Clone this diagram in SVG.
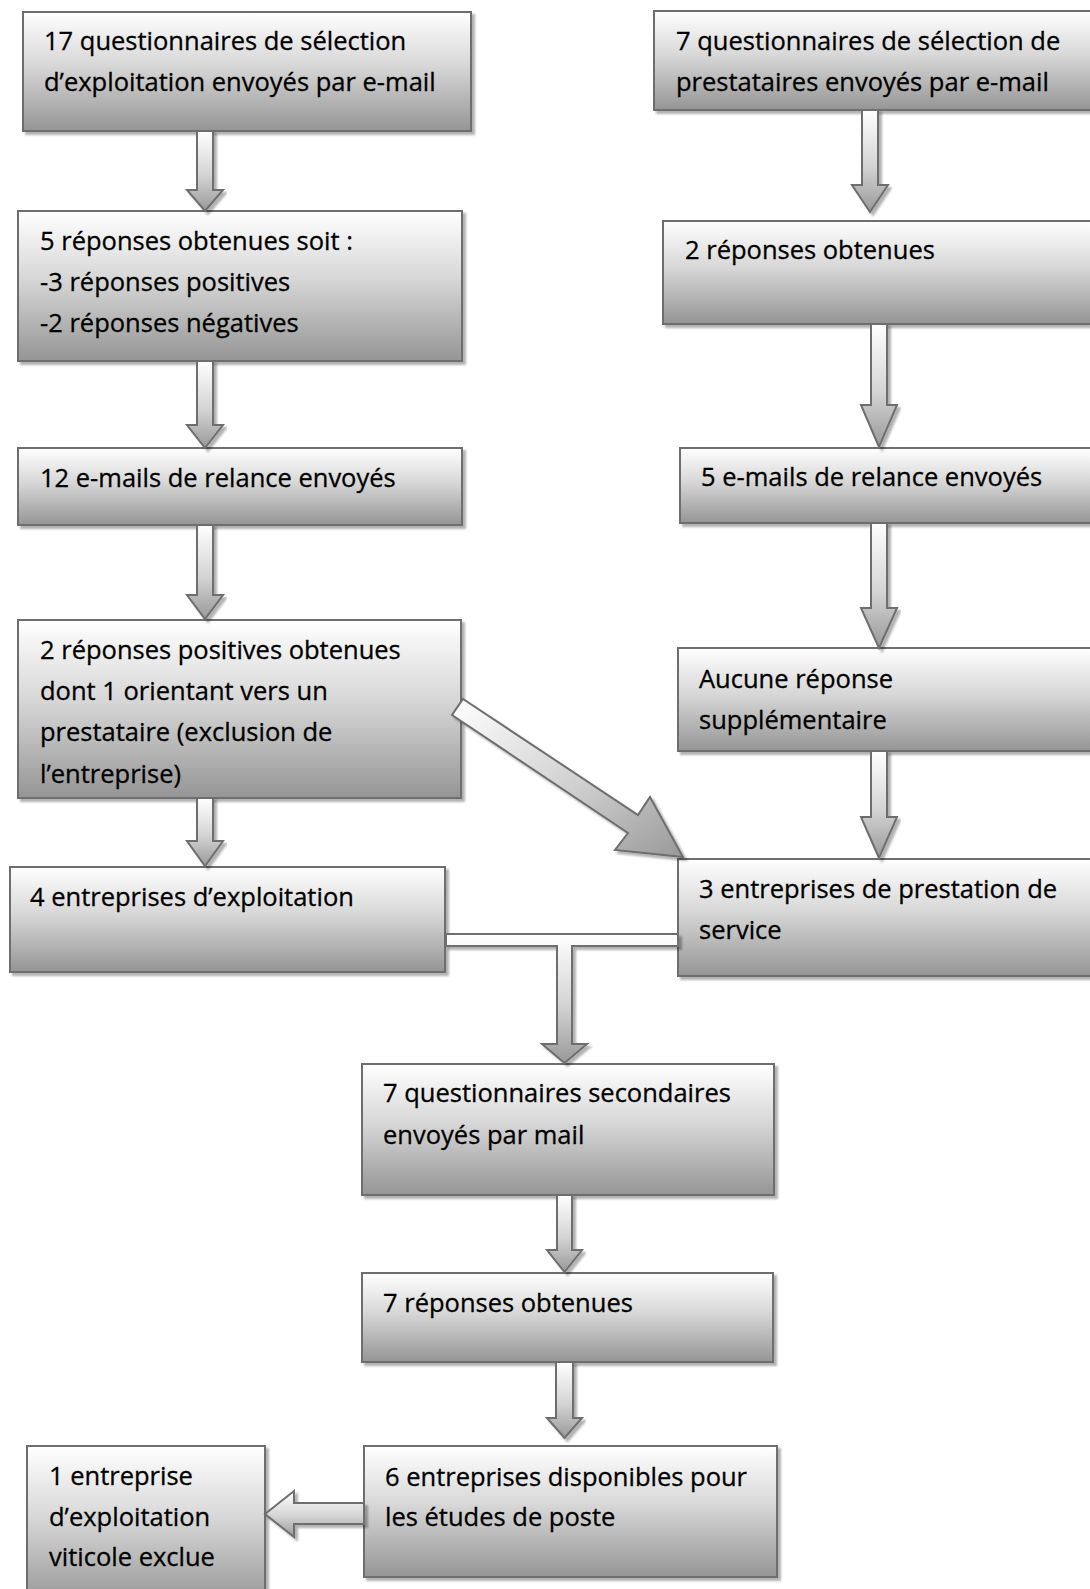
<svg xmlns="http://www.w3.org/2000/svg" width="1090" height="1589" viewBox="0 0 1090 1589">
<defs>
<linearGradient id="boxGrad" x1="0" y1="0" x2="0" y2="1">
<stop offset="0" stop-color="#ffffff"/>
<stop offset="0.45" stop-color="#d7d7d7"/>
<stop offset="1" stop-color="#959595"/>
</linearGradient>
<linearGradient id="arrGrad" x1="0" y1="0" x2="0" y2="1">
<stop offset="0" stop-color="#ffffff"/>
<stop offset="0.55" stop-color="#d4d4d4"/>
<stop offset="1" stop-color="#999999"/>
</linearGradient>
<linearGradient id="diagGrad" x1="0" y1="0" x2="1" y2="1">
<stop offset="0" stop-color="#ffffff"/>
<stop offset="0.55" stop-color="#cfcfcf"/>
<stop offset="1" stop-color="#999999"/>
</linearGradient>
<filter id="shadow" x="-5%" y="-5%" width="115%" height="115%">
<feDropShadow dx="3" dy="3" stdDeviation="0.8" flood-color="#000000" flood-opacity="0.3"/>
</filter>
</defs>
<style>
.box{fill:url(#boxGrad);stroke:#6e6e6e;stroke-width:2;filter:url(#shadow)}
.arr{fill:url(#arrGrad);stroke:#6e6e6e;stroke-width:2;stroke-linejoin:miter;filter:url(#shadow)}
.diag{fill:url(#diagGrad);stroke:#6e6e6e;stroke-width:2;filter:url(#shadow)}
text{font-family:"Open Sans","Liberation Sans",sans-serif;font-size:25.5px;fill:#000;stroke:#000;stroke-width:0.3}
</style>

<g id="node-A"><rect class="box" x="23" y="12" width="448" height="119"/>
<text x="44" y="50">17 questionnaires de sélection</text>
<text x="44" y="91">d’exploitation envoyés par e-mail</text></g>

<g id="node-B"><rect class="box" x="654" y="11" width="446" height="99"/>
<text x="676" y="50">7 questionnaires de sélection de</text>
<text x="676" y="91">prestataires envoyés par e-mail</text></g>

<g id="node-C"><rect class="box" x="18" y="211" width="444" height="150"/>
<text x="40" y="250">5 réponses obtenues soit :</text>
<text x="40" y="291">-3 réponses positives</text>
<text x="40" y="332">-2 réponses négatives</text></g>

<g id="node-J"><rect class="box" x="663" y="221" width="437" height="103"/>
<text x="685" y="259">2 réponses obtenues</text></g>

<g id="node-D"><rect class="box" x="18" y="448" width="444" height="77"/>
<text x="40" y="487">12 e-mails de relance envoyés</text></g>

<g id="node-K"><rect class="box" x="680" y="448" width="420" height="75"/>
<text x="701" y="486">5 e-mails de relance envoyés</text></g>

<g id="node-E"><rect class="box" x="18" y="620" width="443" height="178"/>
<text x="40" y="659">2 réponses positives obtenues</text>
<text x="40" y="700">dont 1 orientant vers un</text>
<text x="40" y="741">prestataire (exclusion de</text>
<text x="40" y="783">l’entreprise)</text></g>

<g id="node-I"><rect class="box" x="678" y="648" width="422" height="103"/>
<text x="699" y="688">Aucune réponse</text>
<text x="699" y="729">supplémentaire</text></g>

<g id="node-F"><rect class="box" x="10" y="867" width="435" height="105"/>
<text x="30" y="906">4 entreprises d’exploitation</text></g>

<g id="node-G"><rect class="box" x="678" y="859" width="422" height="117"/>
<text x="699" y="898">3 entreprises de prestation de</text>
<text x="699" y="939">service</text></g>

<g id="node-H"><rect class="box" x="362" y="1064" width="412" height="131"/>
<text x="383" y="1102">7 questionnaires secondaires</text>
<text x="383" y="1144">envoyés par mail</text></g>

<g id="node-L"><rect class="box" x="362" y="1273" width="411" height="89"/>
<text x="383" y="1312">7 réponses obtenues</text></g>

<g id="node-M"><rect class="box" x="364" y="1446" width="413" height="131"/>
<text x="385" y="1486">6 entreprises disponibles pour</text>
<text x="385" y="1526">les études de poste</text></g>

<g id="node-N"><rect class="box" x="27" y="1446" width="238" height="160"/>
<text x="49" y="1485">1 entreprise</text>
<text x="49" y="1526">d’exploitation</text>
<text x="49" y="1566">viticole exclue</text></g>

<g id="connectors">
<polygon class="arr" points="197,131 213,131 213,190 223,190 205,211 187,190 197,190"/>
<polygon class="arr" points="197,361 213,361 213,425 223,425 205,448 187,425 197,425"/>
<polygon class="arr" points="197,525 213,525 213,595 223,595 205,619 187,595 197,595"/>
<polygon class="arr" points="197,798 213,798 213,841 223,841 205,866 187,841 197,841"/>
<polygon class="arr" points="862,110 878,110 878,185 888,185 870,212 852,185 862,185"/>
<polygon class="arr" points="871,324 887,324 887,405 897,405 879,447 861,405 871,405"/>
<polygon class="arr" points="871,523 887,523 887,608 897,608 879,648 861,608 871,608"/>
<polygon class="arr" points="871,751 887,751 887,817 897,817 879,858 861,817 871,817"/>
<polygon class="arr" points="446,934 678,934 678,946 572,946 572,1044 587,1044 564.5,1063 542,1044 557,1044 557,946 446,946"/>
<polygon class="arr" points="557,1195 572,1195 572,1250 582,1250 564.5,1272 547,1250 557,1250"/>
<polygon class="arr" points="556,1362 573,1362 573,1418 582,1418 564.5,1438 547,1418 556,1418"/>
<polygon class="arr" points="364,1503 364,1524 294,1524 294,1537 265,1514 294,1491 294,1503"/>
<polygon class="diag" points="463,699 638,815 650,797 683,857 615,850 628,833 452,715"/>
</g>
</svg>
